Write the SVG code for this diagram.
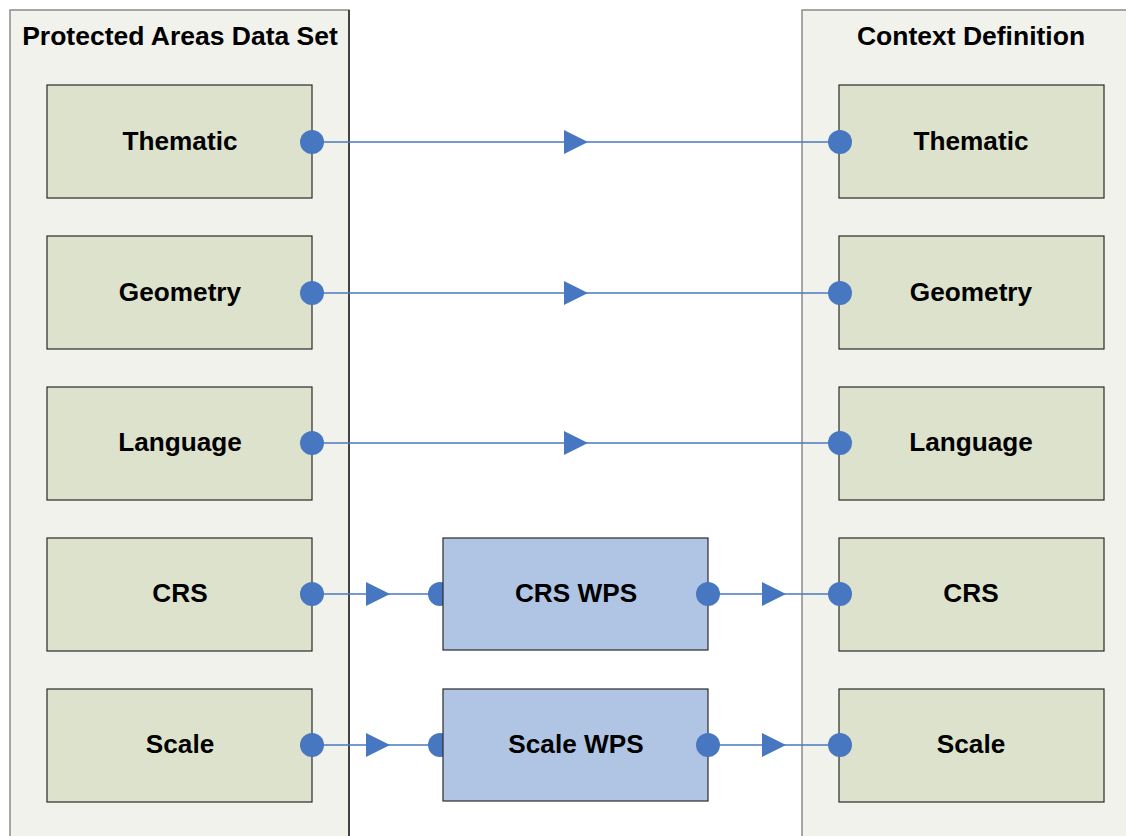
<svg xmlns="http://www.w3.org/2000/svg" width="1126" height="836" viewBox="0 0 1126 836">
  <style>
    .panel { fill: #f1f2eb; stroke: #8a8a8a; stroke-width: 1.5; }
    .panel-edge { stroke: #222; stroke-width: 1.5; }
    .item { fill: #dde2cc; stroke: #2a2a2a; stroke-width: 1.2; }
    .svc { fill: #b0c5e4; stroke: #2a2a2a; stroke-width: 1.2; }
    .title { font-family: "Liberation Sans", Arial, sans-serif; font-weight: bold; font-size: 26.5px; fill: #000; text-anchor: middle; }
    .label { font-family: "Liberation Sans", Arial, sans-serif; font-weight: bold; font-size: 26.2px; fill: #000; text-anchor: middle; }
    .wire { stroke: #4877c1; stroke-width: 1.6; fill: none; }
    .port { fill: #4877c1; }
  </style>
  <defs>
    <path id="tri" d="M0,-12 L24,0 L0,12 Z" fill="#4877c1"/>
  </defs>

  <rect width="1126" height="836" fill="#ffffff"/>

  <!-- source panel -->
  <g id="panel-source">
    <rect class="panel" x="10" y="10" width="339" height="840"/>
    <line class="panel-edge" x1="349" y1="10" x2="349" y2="836"/>
    <text class="title" x="180" y="45">Protected Areas Data Set</text>
  </g>

  <!-- target panel -->
  <g id="panel-target">
    <rect class="panel" x="802" y="10" width="340" height="840"/>
    <text class="title" x="971" y="45">Context Definition</text>
  </g>

  <!-- connectors (drawn under the service boxes) -->
  <g id="connectors">
    <line class="wire" x1="312" y1="142" x2="840" y2="142"/>
    <use href="#tri" x="564" y="142"/>
    <line class="wire" x1="312" y1="293" x2="840" y2="293"/>
    <use href="#tri" x="564" y="293"/>
    <line class="wire" x1="312" y1="443" x2="840" y2="443"/>
    <use href="#tri" x="564" y="443"/>

    <line class="wire" x1="312" y1="594" x2="440" y2="594"/>
    <use href="#tri" x="366" y="594"/>
    <circle class="port" cx="440" cy="594" r="12"/>
    <line class="wire" x1="708" y1="594" x2="840" y2="594"/>
    <use href="#tri" x="762" y="594"/>

    <line class="wire" x1="312" y1="745" x2="440" y2="745"/>
    <use href="#tri" x="366" y="745"/>
    <circle class="port" cx="440" cy="745" r="12"/>
    <line class="wire" x1="708" y1="745" x2="840" y2="745"/>
    <use href="#tri" x="762" y="745"/>
  </g>

  <!-- source items -->
  <g id="src-thematic">
    <rect class="item" x="47" y="85" width="265" height="113"/>
    <text class="label" x="180" y="150">Thematic</text>
  </g>
  <g id="src-geometry">
    <rect class="item" x="47" y="236" width="265" height="113"/>
    <text class="label" x="180" y="301">Geometry</text>
  </g>
  <g id="src-language">
    <rect class="item" x="47" y="387" width="265" height="113"/>
    <text class="label" x="180" y="451">Language</text>
  </g>
  <g id="src-crs">
    <rect class="item" x="47" y="538" width="265" height="113"/>
    <text class="label" x="180" y="602">CRS</text>
  </g>
  <g id="src-scale">
    <rect class="item" x="47" y="689" width="265" height="113"/>
    <text class="label" x="180" y="753">Scale</text>
  </g>

  <!-- processing services -->
  <g id="svc-crs">
    <rect class="svc" x="443" y="538" width="265" height="112"/>
    <text class="label" x="576" y="602">CRS WPS</text>
  </g>
  <g id="svc-scale">
    <rect class="svc" x="443" y="689" width="265" height="112"/>
    <text class="label" x="576" y="753">Scale WPS</text>
  </g>

  <!-- target items -->
  <g id="dst-thematic">
    <rect class="item" x="839" y="85" width="265" height="113"/>
    <text class="label" x="971" y="150">Thematic</text>
  </g>
  <g id="dst-geometry">
    <rect class="item" x="839" y="236" width="265" height="113"/>
    <text class="label" x="971" y="301">Geometry</text>
  </g>
  <g id="dst-language">
    <rect class="item" x="839" y="387" width="265" height="113"/>
    <text class="label" x="971" y="451">Language</text>
  </g>
  <g id="dst-crs">
    <rect class="item" x="839" y="538" width="265" height="113"/>
    <text class="label" x="971" y="602">CRS</text>
  </g>
  <g id="dst-scale">
    <rect class="item" x="839" y="689" width="265" height="113"/>
    <text class="label" x="971" y="753">Scale</text>
  </g>

  <!-- ports on top of boxes -->
  <g id="ports">
    <circle class="port" cx="312" cy="142" r="12"/>
    <circle class="port" cx="840" cy="142" r="12"/>
    <circle class="port" cx="312" cy="293" r="12"/>
    <circle class="port" cx="840" cy="293" r="12"/>
    <circle class="port" cx="312" cy="443" r="12"/>
    <circle class="port" cx="840" cy="443" r="12"/>
    <circle class="port" cx="312" cy="594" r="12"/>
    <circle class="port" cx="708" cy="594" r="12"/>
    <circle class="port" cx="840" cy="594" r="12"/>
    <circle class="port" cx="312" cy="745" r="12"/>
    <circle class="port" cx="708" cy="745" r="12"/>
    <circle class="port" cx="840" cy="745" r="12"/>
  </g>
</svg>
